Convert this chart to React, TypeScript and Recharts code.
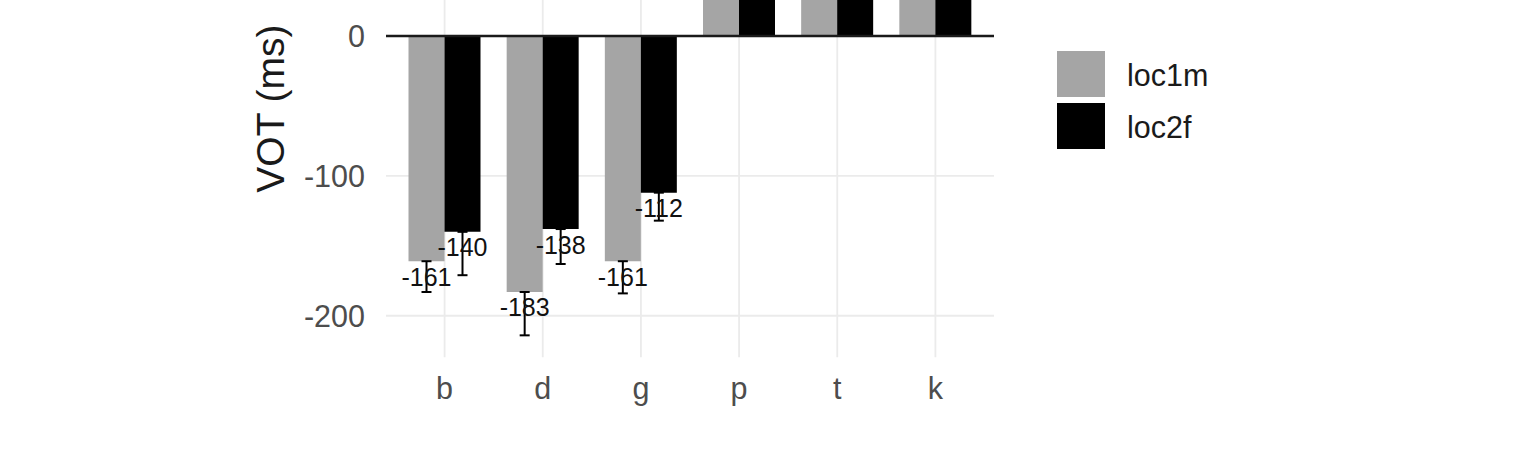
import React from 'react'
import {
  BarChart,
  Bar,
  XAxis,
  YAxis,
  CartesianGrid,
  ReferenceLine,
  ErrorBar,
  LabelList,
  Legend,
} from 'recharts'

const consonants = ['b', 'd', 'g', 'p', 't', 'k']
const loc1mMeans = [-161, -183, -161, 45, 60, 70]
const loc2fMeans = [-140, -138, -112, 58, 75, 90]
const loc1mSd = [22, 31, 23, 12, 14, 15]
const loc2fSd = [31, 25, 20, 14, 16, 18]
const yTicks = [-200, -100, 0, 100]

const GREY = '#a5a5a5'
const BLACK = '#000000'
const FONT = '"Liberation Sans", Arial, Helvetica, sans-serif'

// error bar only on the side facing away from zero (mean -> mean - sd)
const oneSided = (m: number, sd: number): [number, number] => (m < 0 ? [sd, 0] : [0, sd])

const data = consonants.map((c, i) => ({
  consonant: c,
  loc1m: loc1mMeans[i],
  loc2f: loc2fMeans[i],
  loc1mErr: oneSided(loc1mMeans[i], loc1mSd[i]),
  loc2fErr: oneSided(loc2fMeans[i], loc2fSd[i]),
}))

function ValueLabel(props: any) {
  const { x, y, width, height, value } = props
  if (value == null) return null
  const v = Number(value)
  const cx = Number(x) + Number(width) / 2
  const top = Math.min(Number(y), Number(y) + Number(height))
  const bottom = Math.max(Number(y), Number(y) + Number(height))
  const cy = v < 0 ? bottom + 15.5 : top - 15.5
  return (
    <text x={cx} y={cy} dy="0.36em" textAnchor="middle" fontSize={25} fill="#111">
      {Math.round(v)}
    </text>
  )
}

function YTitle(props: any) {
  const vb = props.viewBox || {}
  const cy = (vb.y ?? 60) + (vb.height ?? 497) / 2
  const x = 284
  return (
    <text
      x={x}
      y={cy}
      textAnchor="middle"
      fontSize={39}
      fill="#1a1a1a"
      transform={`rotate(-90, ${x}, ${cy})`}
    >
      VOT (ms)
    </text>
  )
}

function LegendBox({ payload }: any) {
  const items = payload || []
  return (
    <svg width={220} height={110} style={{ display: 'block' }}>
      {items.map((p: any, i: number) => (
        <g key={p.value}>
          <rect x={0} y={i * 52} width={48} height={46} fill={p.color} />
          <text x={70} y={35 + i * 51.5} fontSize={30.5} fill="#1a1a1a">
            {p.value}
          </text>
        </g>
      ))}
    </svg>
  )
}

export default function App() {
  return (
    <div
      style={{
        position: 'absolute',
        left: 0,
        top: -200,
        width: 1536,
        height: 640,
        fontFamily: FONT,
        background: '#fff',
      }}
    >
      <BarChart
        width={1536}
        height={640}
        data={data}
        barGap={0}
        margin={{ top: 59.8, right: 542, left: 0, bottom: 22.7 }}
      >
        <CartesianGrid stroke="#ebebeb" strokeWidth={1.8} syncWithTicks />
        <XAxis
          dataKey="consonant"
          padding={{ left: 9.5, right: 9.5 }}
          tickLine={false}
          axisLine={false}
          tickSize={0}
          tickMargin={20}
          height={60}
          tick={{ fill: '#4d4d4d', fontSize: 30.5 }}
        />
        <YAxis
          type="number"
          domain={[-229.7, 126]}
          ticks={yTicks}
          allowDataOverflow
          tickLine={false}
          axisLine={false}
          tickSize={0}
          tickMargin={21}
          width={386}
          tick={{ fill: '#4d4d4d', fontSize: 30.5 }}
          label={<YTitle />}
        />
        <Legend
          layout="horizontal"
          align="center"
          verticalAlign="middle"
          content={<LegendBox />}
          wrapperStyle={{ left: 1057, top: 251, width: 220, height: 110 }}
        />
        <Bar dataKey="loc1m" name="loc1m" fill={GREY} barSize={36} isAnimationActive={false}>
          <ErrorBar dataKey="loc1mErr" width={5} strokeWidth={2} stroke="#000" isAnimationActive={false} />
          <LabelList dataKey="loc1m" content={<ValueLabel />} />
        </Bar>
        <Bar dataKey="loc2f" name="loc2f" fill={BLACK} barSize={36} isAnimationActive={false}>
          <ErrorBar dataKey="loc2fErr" width={5} strokeWidth={2} stroke="#000" isAnimationActive={false} />
          <LabelList dataKey="loc2f" content={<ValueLabel />} />
        </Bar>
        <ReferenceLine y={0} stroke="#1a1a1a" strokeWidth={2.4} />
      </BarChart>
    </div>
  )
}
